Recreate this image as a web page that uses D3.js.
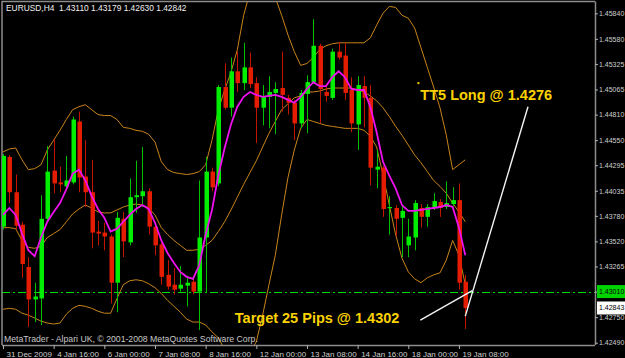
<!DOCTYPE html>
<html>
<head>
<meta charset="utf-8">
<script src="https://cdn.jsdelivr.net/npm/d3@7"></script>
<style>
  body { margin: 0; background: #000; }
  svg { display: block; }
</style>
</head>
<body>
<svg id="chart"></svg>
<script>
// EURUSD H4 bars
const opens  = [1.4367,1.4438,1.4402,1.4369,1.4326,1.4293,1.4294,1.4375,1.4424,1.4412,1.4408,1.4412,1.4474,1.4418,1.4402,1.4362,1.4361,1.4357,1.4310,1.4375,
                1.4351,1.4397,1.4398,1.4403,1.4367,1.4349,1.4318,1.4308,1.4304,1.4307,1.4311,1.4301,1.4356,1.4423,1.4411,1.4509,1.4488,1.4525,1.4513,1.4529,
                1.4513,1.4488,1.4499,1.4503,1.4508,1.4498,1.4493,1.4472,1.4502,1.4514,1.4551,1.4504,1.4498,1.4545,1.4541,1.4506,1.4471,1.4510,1.4498,1.4425,
                1.4427,1.4386,1.4386,1.4376,1.4348,1.4356,1.4386,1.4377,1.4386,1.4392,1.4387,1.4390,1.4394,1.43110];
const highs  = [1.4441,1.4440,1.4420,1.4372,1.4336,1.4310,1.4399,1.4449,1.4456,1.4428,1.4439,1.4479,1.4484,1.4455,1.4435,1.4373,1.4371,1.4359,1.4382,1.4382,
                1.4416,1.4434,1.4448,1.4406,1.4372,1.4353,1.4333,1.4325,1.4327,1.4317,1.4316,1.4414,1.4438,1.4427,1.4511,1.4533,1.4539,1.4545,1.4554,1.4544,
                1.4519,1.4511,1.4520,1.4514,1.4545,1.4501,1.4496,1.4506,1.4521,1.4578,1.4553,1.4509,1.4548,1.4555,1.4554,1.4519,1.4520,1.4520,1.4511,1.4445,
                1.4429,1.4398,1.4389,1.4389,1.4375,1.4394,1.4390,1.4390,1.4401,1.4395,1.4413,1.4407,1.4411,1.43179];
const lows   = [1.4364,1.4391,1.4364,1.4315,1.4265,1.4270,1.4267,1.4373,1.4401,1.4402,1.4404,1.4410,1.4402,1.4387,1.4345,1.4348,1.4343,1.4289,1.4280,1.4336,
                1.4348,1.4381,1.4387,1.4359,1.4338,1.4308,1.4303,1.4298,1.4301,1.4286,1.4298,1.4262,1.4300,1.4403,1.4408,1.4486,1.4479,1.4504,1.4506,1.4508,
                1.4452,1.4470,1.4467,1.4461,1.4484,1.4481,1.4455,1.4467,1.4462,1.4512,1.4472,1.4494,1.4496,1.4537,1.4496,1.4463,1.4445,1.4468,1.4409,1.4406,
                1.4377,1.4359,1.4357,1.4336,1.4336,1.4343,1.4366,1.4367,1.4384,1.4377,1.4385,1.4388,1.4303,1.42630];
const closes = [1.4439,1.4402,1.4368,1.4329,1.4293,1.4296,1.4375,1.4423,1.4411,1.4410,1.4414,1.4476,1.4417,1.4402,1.4361,1.4360,1.4357,1.4310,1.4376,1.4352,
                1.4397,1.4399,1.4403,1.4367,1.4348,1.4316,1.4306,1.4303,1.4308,1.4310,1.4301,1.4356,1.4423,1.4407,1.4509,1.4488,1.4525,1.4513,1.4529,1.4512,
                1.4488,1.4500,1.4504,1.4507,1.4501,1.4493,1.4472,1.4503,1.4514,1.4551,1.4507,1.4500,1.4545,1.4539,1.4503,1.4472,1.4511,1.4498,1.4427,1.4428,
                1.4385,1.4387,1.4375,1.4383,1.4357,1.4391,1.4377,1.4387,1.4393,1.4386,1.4391,1.4394,1.4310,1.42842];

// indicator lines as drawn (moving average, Bollinger bands)
const maValues   = [1.4379,1.4386,1.4379,1.4360,1.4343,1.4337,1.4356,1.4372,1.4382,1.4391,1.4405,1.4421,1.4425,1.4414,1.4398,1.4385,1.4376,1.4362,1.4365,1.4372,
                    1.4379,1.4385,1.4389,1.4385,1.4371,1.4353,1.4340,1.4330,1.4321,1.4316,1.4314,1.4328,1.4359,1.4384,1.4419,1.4447,1.4471,1.4489,1.4499,1.4504,
                    1.4501,1.4499,1.4500,1.4501,1.4499,1.4496,1.4493,1.4499,1.4507,1.4514,1.4510,1.4510,1.4519,1.4525,1.4519,1.4507,1.4506,1.4506,1.4489,1.4463,
                    1.4433,1.4419,1.4406,1.4389,1.4383,1.4383,1.4384,1.4385,1.4386,1.4387,1.4389,1.4387,1.4366,1.4338];
const bandUpper  = [1.4443,1.4446,1.4447,1.4435,1.4425,1.4426,1.4430,1.4445,1.4455,1.4465,1.4476,1.4486,1.4489,1.4491,1.4486,1.4481,1.4480,1.4480,1.4476,1.4468,
                    1.4467,1.4465,1.4464,1.4461,1.4453,1.4433,1.4425,1.4422,1.4421,1.4420,1.4421,1.4423,1.4430,1.4455,1.4486,1.4506,1.4524,1.4547,1.4582,1.4606,
                    1.4620,1.4623,1.4616,1.4600,1.4582,1.4562,1.4545,1.4531,1.4533,1.4539,1.4547,1.4551,1.4553,1.4554,1.4554,1.4554,1.4554,1.4554,1.4559,1.4572,
                    1.4584,1.4591,1.4590,1.4582,1.4579,1.4569,1.4549,1.4529,1.4509,1.4488,1.4460,1.4425,1.4430,1.4435];
const bandMiddle = [1.4366,1.4366,1.4365,1.4353,1.4346,1.4345,1.4347,1.4356,1.4360,1.4364,1.4372,1.4380,1.4385,1.4389,1.4386,1.4382,1.4381,1.4381,1.4384,1.4387,
                    1.4389,1.4390,1.4389,1.4386,1.4379,1.4366,1.4359,1.4353,1.4348,1.4343,1.4343,1.4344,1.4348,1.4353,1.4362,1.4372,1.4384,1.4397,1.4410,1.4422,
                    1.4434,1.4448,1.4462,1.4474,1.4486,1.4492,1.4498,1.4500,1.4504,1.4504,1.4505,1.4507,1.4508,1.4508,1.4508,1.4508,1.4506,1.4504,1.4500,1.4495,
                    1.4488,1.4479,1.4469,1.4460,1.4450,1.4440,1.4432,1.4423,1.4414,1.4408,1.4401,1.4391,1.4382,1.4372];
const bandLower  = [1.4283,1.4284,1.4283,1.4279,1.4277,1.4274,1.4271,1.4269,1.4268,1.4269,1.4278,1.4284,1.4287,1.4286,1.4284,1.4281,1.4279,1.4279,1.4294,1.4308,
                    1.4312,1.4313,1.4312,1.4309,1.4305,1.4299,1.4292,1.4286,1.4280,1.4273,1.4270,1.4270,1.4267,1.4260,1.4254,1.4242,1.4231,1.4226,1.4229,1.4239,
                    1.4250,1.4277,1.4308,1.4338,1.4379,1.4417,1.4445,1.4467,1.4476,1.4474,1.4472,1.4470,1.4469,1.4468,1.4467,1.4467,1.4467,1.4465,1.4459,1.4448,
                    1.4420,1.4389,1.4359,1.4335,1.4321,1.4314,1.4310,1.4315,1.4318,1.4320,1.4333,1.4353,1.4338,1.4308];

const timeTickBars = [0, 8, 16, 24, 32, 40, 48, 56, 64, 72];
const timeLabels = ['31 Dec 2009', '4 Jan 16:00', '6 Jan 00:00', '7 Jan 08:00', '8 Jan 16:00',
                    '12 Jan 00:00', '13 Jan 08:00', '14 Jan 16:00', '18 Jan 00:00', '19 Jan 08:00'];
const priceTicks = [1.45840, 1.45580, 1.45325, 1.45065, 1.44810, 1.44550, 1.44295, 1.44035,
                    1.43780, 1.43520, 1.43265, 1.43010, 1.42750, 1.42490];

const targetLevel = 1.43010;
const bidLevel = 1.42843;

// hand drawn objects: trend lines [bar, price, bar, price] and texts
const trendLines = [[73, 1.4276, 82.9, 1.4489], [65.9, 1.4272, 74.1, 1.4302]];
const noteTexts = [
  {bar: 65.9, price: 1.4496, text: 'TT5 Long @ 1.4276'},
  {bar: 36.6, price: 1.4269, text: 'Target 25 Pips @ 1.4302'}
];
const noteDot = {bar: 65.6, price: 1.4513};

class CandleChart {

  constructor(_config) {
    this.config = {
      parentElement: _config.parentElement,
      containerWidth: 625,
      containerHeight: 358,
      plot: {left: 2, right: 595, top: 1.5, bottom: 345}
    };
    this.initVis();
  }

  initVis() {
    let vis = this;
    const p = vis.config.plot;

    vis.svg = d3.select(vis.config.parentElement)
        .attr('width', vis.config.containerWidth)
        .attr('height', vis.config.containerHeight)
        .style('font-family', '"Liberation Sans", Arial, sans-serif');

    vis.svg.append('rect')
        .attr('width', vis.config.containerWidth)
        .attr('height', vis.config.containerHeight)
        .attr('fill', '#000');

    vis.x = d3.scaleLinear().domain([0, 73]).range([3, 465.3]);
    vis.y = d3.scaleLinear().domain([1.42490, 1.45840]).range([342.7, 13.3]);

    vis.svg.append('clipPath').attr('id', 'plotClip')
      .append('rect')
        .attr('x', p.left).attr('y', p.top)
        .attr('width', p.right - p.left).attr('height', p.bottom - p.top);

    // frame
    vis.svg.append('path')
        .attr('d', `M${p.left},${p.bottom}V${p.top}H${p.right}`)
        .attr('fill', 'none')
        .attr('stroke', '#8c8c8c')
        .attr('stroke-width', 1.5);

    vis.chart = vis.svg.append('g').attr('clip-path', 'url(#plotClip)');

    vis.renderVis();
  }

  renderVis() {
    let vis = this;
    const p = vis.config.plot;
    const idx = d3.range(opens.length);

    // target level
    const ty = Math.round(vis.y(targetLevel)) + 0.5;
    vis.chart.append('line')
        .attr('x1', p.left).attr('x2', p.right)
        .attr('y1', ty).attr('y2', ty)
        .attr('stroke', '#00dc00')
        .attr('stroke-width', 1)
        .attr('shape-rendering', 'crispEdges')
        .attr('stroke-dasharray', '8,3,2,3');

    // bands
    const line = values => d3.line()
        .x((d, i) => vis.x(i))
        .y(d => vis.y(d))(values);

    [bandUpper, bandMiddle, bandLower].forEach(b => {
      vis.chart.append('path')
          .attr('d', line(b))
          .attr('fill', 'none')
          .attr('stroke', '#c8841a')
          .attr('stroke-width', 1);
    });

    // candles
    const bull = i => closes[i] >= opens[i];
    vis.chart.selectAll('.wick')
        .data(idx)
      .join('line')
        .attr('class', 'wick')
        .attr('x1', i => Math.round(vis.x(i)) + 0.5)
        .attr('x2', i => Math.round(vis.x(i)) + 0.5)
        .attr('y1', i => vis.y(highs[i]))
        .attr('y2', i => vis.y(lows[i]))
        .attr('stroke', i => bull(i) ? '#00c000' : '#c01400')
        .attr('stroke-width', 1);

    vis.chart.selectAll('.body')
        .data(idx)
      .join('rect')
        .attr('class', 'body')
        .attr('x', i => Math.round(vis.x(i)) - 1.5)
        .attr('width', 4.5)
        .attr('y', i => vis.y(Math.max(opens[i], closes[i])))
        .attr('height', i => Math.max(1.2, Math.abs(vis.y(opens[i]) - vis.y(closes[i]))))
        .attr('fill', i => bull(i) ? '#00ee00' : '#e41c00');

    // moving average
    vis.chart.append('path')
        .attr('d', line(maValues))
        .attr('fill', 'none')
        .attr('stroke', '#ee10ee')
        .attr('stroke-width', 1.8);

    // trend lines
    vis.chart.selectAll('.trend')
        .data(trendLines)
      .join('line')
        .attr('class', 'trend')
        .attr('x1', d => vis.x(d[0])).attr('y1', d => vis.y(d[1]))
        .attr('x2', d => vis.x(d[2])).attr('y2', d => vis.y(d[3]))
        .attr('stroke', '#f4f4f4')
        .attr('stroke-width', 1.4);

    vis.chart.append('rect')
        .attr('x', vis.x(noteDot.bar) - 1).attr('y', vis.y(noteDot.price) - 1)
        .attr('width', 2).attr('height', 2)
        .attr('fill', '#f8d000');

    vis.chart.selectAll('.note')
        .data(noteTexts)
      .join('text')
        .attr('class', 'note')
        .attr('x', d => vis.x(d.bar))
        .attr('y', d => vis.y(d.price))
        .attr('font-size', '14.5px')
        .attr('font-weight', 'bold')
        .attr('fill', '#fad200')
        .text(d => d.text);

    // price axis
    const yAxis = vis.svg.append('g')
        .attr('transform', `translate(${p.right},0)`)
        .call(d3.axisRight(vis.y).tickValues(priceTicks).tickSize(3).tickPadding(1)
          .tickFormat(d3.format('.5f')));
    yAxis.select('.domain').attr('stroke', '#8c8c8c').attr('stroke-width', 1.5)
        .attr('d', `M0.5,${p.top}V${p.bottom}`);
    yAxis.selectAll('line').attr('stroke', '#b0b0b0');
    yAxis.selectAll('text').attr('fill', '#cfcfcf').attr('font-size', '7px')
        .attr('font-family', '"Liberation Sans", Arial, sans-serif');

    // highlighted levels on the axis
    const tags = [
      {price: targetLevel, fill: '#00d400', text: '1.43010'},
      {price: bidLevel, fill: '#ffffff', text: '1.42843'}
    ];
    const tag = vis.svg.selectAll('.tag').data(tags).join('g')
        .attr('class', 'tag')
        .attr('transform', d => `translate(${p.right + 2},${vis.y(d.price)})`);
    tag.append('rect')
        .attr('x', 0).attr('y', -6.5).attr('width', 30).attr('height', 13)
        .attr('fill', d => d.fill);
    tag.append('text')
        .attr('x', 2).attr('dy', '0.32em')
        .attr('font-size', '7px')
        .attr('fill', '#000')
        .text(d => d.text);

    // time axis
    const xAxis = vis.svg.append('g')
        .attr('transform', `translate(0,${p.bottom})`)
        .call(d3.axisBottom(vis.x).tickValues(timeTickBars).tickSize(4).tickPadding(2)
          .tickFormat((d, i) => timeLabels[i]));
    xAxis.select('.domain').attr('stroke', '#8c8c8c').attr('stroke-width', 1.5)
        .attr('d', `M${p.left},0.5H${p.right}`);
    xAxis.selectAll('line').attr('stroke', '#b0b0b0');
    xAxis.selectAll('text').attr('fill', '#cfcfcf').attr('font-size', '8px')
        .attr('text-anchor', 'start').attr('dx', 3)
        .attr('font-family', '"Liberation Sans", Arial, sans-serif');

    // header and footer texts
    vis.svg.append('text')
        .attr('x', 6).attr('y', 11)
        .attr('font-size', '8.4px')
        .attr('fill', '#f0f0f0')
        .attr('xml:space', 'preserve')
        .text('EURUSD,H4  1.43110 1.43179 1.42630 1.42842');

    vis.svg.append('text')
        .attr('x', 4).attr('y', 342)
        .attr('font-size', '8.7px')
        .attr('fill', '#c8c8c8')
        .text('MetaTrader - Alpari UK, \u00a9 2001-2008 MetaQuotes Software Corp.');
  }
}

new CandleChart({parentElement: '#chart'});
</script>
</body>
</html>
